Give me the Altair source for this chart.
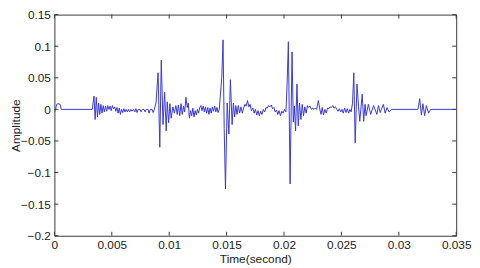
import altair as alt
import pandas as pd

# ---- waveform samples (time in seconds, amplitude) ----
start_t = [0.0, 0.0001, 0.0002, 0.0003, 0.0005, 0.0006, 0.0033]
start_a = [-0.005, 0.0, 0.008, 0.009, 0.008, 0.0, 0.0]

burst1_t = [0.00345, 0.00355, 0.00365, 0.00375, 0.00385, 0.00395, 0.00405, 0.00415, 0.00425, 0.00435,
            0.00445, 0.00455, 0.00465, 0.00475, 0.00485, 0.00495, 0.00505, 0.00515, 0.00525, 0.00535,
            0.00545, 0.00555, 0.00565, 0.00575, 0.00585, 0.00595, 0.00605, 0.00615, 0.00625, 0.00635,
            0.00645, 0.00655, 0.00665, 0.00675, 0.00690, 0.00700, 0.00710, 0.00720, 0.00730, 0.00745,
            0.00755, 0.00765, 0.00780, 0.00790, 0.00800, 0.00815, 0.00825, 0.00835, 0.00850]
burst1_a = [0.021, -0.016, 0.019, -0.012, 0.010, -0.008, 0.008, -0.006, 0.006, -0.004,
            0.005, -0.003, 0.006, 0.000, 0.005, -0.002, 0.006, 0.001, 0.004, -0.003,
            0.003, -0.006, 0.002, -0.008, 0.000, -0.005, 0.001, -0.004, 0.000, -0.004,
            0.000, -0.004, 0.000, -0.003, 0.000, -0.004, 0.001, -0.005, 0.000, 0.000,
            -0.004, 0.000, 0.000, -0.004, 0.000, 0.000, -0.006, 0.000, 0.000]

burst2_t = [0.00860, 0.00870, 0.00885, 0.00903, 0.00918, 0.00931, 0.00946, 0.00960, 0.00974, 0.00983,
            0.00995, 0.01006, 0.01017, 0.01032, 0.01045, 0.01058, 0.01070, 0.01080, 0.01092, 0.01103,
            0.01114, 0.01125, 0.01135, 0.01146, 0.01157, 0.01166, 0.01176, 0.01186, 0.01196, 0.01206,
            0.01216, 0.01226, 0.01236, 0.01246, 0.01256, 0.01266, 0.01276, 0.01286, 0.01296, 0.01306,
            0.01316, 0.01326, 0.01336, 0.01346, 0.01356, 0.01366, 0.01376, 0.01386, 0.01396, 0.01406,
            0.01416, 0.01426, 0.01436]
burst2_a = [-0.005, 0.000, 0.010, 0.058, -0.060, 0.078, -0.024, 0.027, -0.034, 0.012,
            -0.021, 0.009, -0.014, 0.004, -0.006, 0.006, -0.008, 0.007, -0.010, 0.009,
            -0.008, 0.005, -0.004, 0.019, 0.003, 0.010, -0.014, -0.002, -0.010, 0.002,
            -0.012, -0.002, -0.009, 0.000, -0.006, 0.003, 0.006, -0.002, 0.005, -0.004,
            0.004, -0.006, 0.003, -0.008, 0.002, -0.006, 0.004, -0.003, 0.005, -0.004,
            0.003, -0.005, 0.000]

burst3_t = [0.01458, 0.01469, 0.01479, 0.01490, 0.01505, 0.01520, 0.01533, 0.01548, 0.01559, 0.01570,
            0.01580, 0.01591, 0.01602, 0.01613, 0.01625, 0.01637, 0.01648, 0.01660, 0.01671, 0.01682,
            0.01694, 0.01705, 0.01716, 0.01729, 0.01740, 0.01751, 0.01763, 0.01774, 0.01785, 0.01797,
            0.01808, 0.01820, 0.01832, 0.01843, 0.01854, 0.01866, 0.01877, 0.01889, 0.01901, 0.01912,
            0.01923, 0.01935, 0.01946, 0.01957, 0.01969, 0.01981, 0.01992, 0.02004, 0.02017]
burst3_a = [0.050, 0.110, -0.030, -0.126, 0.010, -0.039, 0.047, -0.024, 0.010, -0.012,
            0.006, -0.008, 0.006, -0.006, 0.004, -0.006, 0.002, 0.008, 0.005, 0.014,
            0.004, 0.008, -0.002, 0.002, -0.006, 0.000, -0.009, -0.002, -0.010, -0.003,
            -0.008, 0.000, -0.004, 0.003, 0.002, 0.006, 0.004, 0.007, 0.001, 0.003,
            -0.004, -0.001, -0.008, -0.002, -0.010, -0.003, -0.006, 0.000, -0.004]

burst4_t = [0.02027, 0.02038, 0.02053, 0.02070, 0.02081, 0.02090, 0.02101, 0.02113, 0.02124, 0.02135,
            0.02147, 0.02159, 0.02170, 0.02181, 0.02193, 0.02204, 0.02215, 0.02227, 0.02239, 0.02250,
            0.02262, 0.02273, 0.02284, 0.02299, 0.02310, 0.02322, 0.02333, 0.02344, 0.02356, 0.02368,
            0.02379, 0.02391, 0.02402, 0.02413, 0.02425, 0.02436, 0.02448, 0.02460, 0.02471, 0.02482,
            0.02494, 0.02505, 0.02516, 0.02528, 0.02540, 0.02551, 0.02563, 0.02574, 0.02585]
burst4_a = [0.040, 0.107, -0.118, 0.091, -0.020, 0.005, -0.034, 0.040, -0.026, 0.010,
            -0.016, 0.008, -0.010, 0.004, -0.006, 0.006, 0.003, 0.005, 0.000, 0.002,
            0.000, 0.002, 0.000, 0.014, 0.002, -0.008, 0.003, -0.009, 0.000, -0.006,
            0.002, 0.001, 0.004, 0.003, 0.006, 0.002, 0.004, 0.000, -0.003, 0.001,
            -0.004, 0.000, -0.006, 0.002, -0.005, 0.001, -0.006, 0.000, -0.004]

burst5_t = [0.02597, 0.02608, 0.02620, 0.02636, 0.02649, 0.02660, 0.02681, 0.02694, 0.02706, 0.02715,
            0.02735, 0.02755, 0.02780, 0.02809, 0.02823, 0.02838, 0.02866, 0.02881, 0.02898, 0.02915,
            0.02939, 0.03165]
burst5_a = [0.010, 0.058, -0.053, 0.040, 0.005, -0.019, 0.024, -0.019, 0.008, -0.010,
            0.008, -0.008, 0.006, -0.008, 0.006, -0.005, 0.008, -0.006, 0.003, -0.004,
            0.000, 0.000]

burst6_t = [0.03167, 0.03182, 0.03197, 0.03210, 0.03225, 0.03240, 0.03259, 0.03277, 0.03500]
burst6_a = [0.000, 0.017, -0.009, 0.009, -0.010, 0.006, -0.006, 0.000, 0.000]

x_ticks = [0, 0.005, 0.01, 0.015, 0.02, 0.025, 0.03, 0.035]
y_ticks = [-0.2, -0.15, -0.1, -0.05, 0, 0.05, 0.1, 0.15]

all_t = start_t + burst1_t + burst2_t + burst3_t + burst4_t + burst5_t + burst6_t
all_a = start_a + burst1_a + burst2_a + burst3_a + burst4_a + burst5_a + burst6_a
df = pd.DataFrame({"t": all_t, "a": all_a})
xt = pd.DataFrame({"t": x_ticks})
yt = pd.DataFrame({"a": y_ticks})

W, H = 407, 224
FONT = "Liberation Sans"
FRAME = "#3a3a3a"
xs = alt.Scale(domain=[0, 0.035], nice=False, zero=False)
ys = alt.Scale(domain=[-0.2, 0.15], nice=False, zero=False)

x_axis = alt.Axis(
    values=x_ticks, format="~g", title="Time(second)", grid=False, ticks=False,
    domain=False, labelPadding=4, labelFlush=False, labelOverlap=False,
    titleY=23, titleBaseline="middle")
y_axis = alt.Axis(
    values=y_ticks, format="~g", title="Amplitude", grid=False, ticks=False,
    domain=False, labelPadding=4, labelFlush=False, labelOverlap=False,
    titleX=-39, titleY=H / 2, titleAngle=270, titleBaseline="middle", titleAlign="center")

X = alt.X("t:Q", scale=xs, axis=x_axis)
Y = alt.Y("a:Q", scale=ys, axis=y_axis)

line = alt.Chart(df).mark_line(color="#3838e0", strokeWidth=1, clip=True).encode(x=X, y=Y)

tick_b = alt.Chart(xt).mark_rule(color=FRAME, strokeWidth=1).encode(
    x=X, y=alt.value(H), y2=alt.value(H - 4))
tick_t = alt.Chart(xt).mark_rule(color=FRAME, strokeWidth=1).encode(
    x=X, y=alt.value(0), y2=alt.value(4))
tick_l = alt.Chart(yt).mark_rule(color=FRAME, strokeWidth=1).encode(
    y=Y, x=alt.value(0), x2=alt.value(4))
tick_r = alt.Chart(yt).mark_rule(color=FRAME, strokeWidth=1).encode(
    y=Y, x=alt.value(W), x2=alt.value(W - 4))

chart = alt.layer(line, tick_b, tick_t, tick_l, tick_r).properties(
    width=W, height=H,
    background="white",
    autosize=alt.AutoSizeParams(type="none"),
    padding={"left": 47, "top": 5, "right": 16, "bottom": 32},
).configure_view(stroke=FRAME, strokeWidth=1).configure_axis(
    labelFont=FONT, labelFontSize=12, labelColor="#222222",
    titleFont=FONT, titleFontSize=12, titleFontWeight="normal", titleColor="#222222",
)

chart.save("out.html", embed_options={"renderer": "svg", "actions": False})
